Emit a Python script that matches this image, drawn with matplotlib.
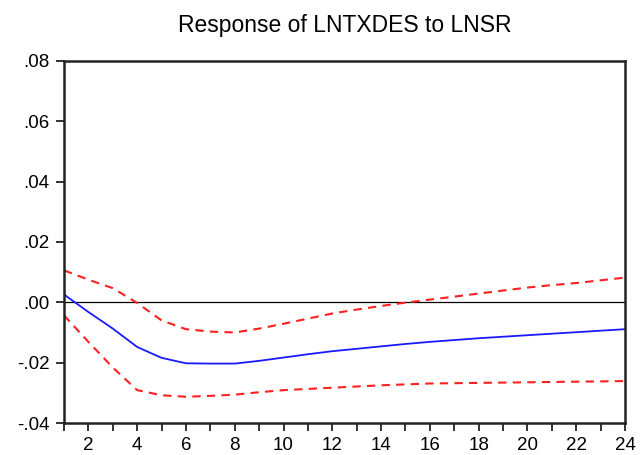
import numpy as np
import matplotlib
matplotlib.use("Agg")
from matplotlib import pyplot as plt
from matplotlib.ticker import FuncFormatter, MultipleLocator

plt.rcParams['font.family'] = ['Liberation Sans', 'DejaVu Sans']

periods = np.arange(1, 25)
response = [0.0026, -0.0032, -0.0087, -0.0148, -0.0184, -0.0202, -0.0203, -0.0203,
            -0.0194, -0.0183, -0.0172, -0.0162, -0.0154, -0.0146, -0.0138, -0.0131,
            -0.0125, -0.0119, -0.0114, -0.0109, -0.0104, -0.0099, -0.0094, -0.0089]
upper = [0.0106, 0.0075, 0.0047, -0.0002, -0.0060, -0.0089, -0.0097, -0.0100,
         -0.0087, -0.0071, -0.0054, -0.0037, -0.0024, -0.0012, -0.0001, 0.0009,
         0.0019, 0.0029, 0.0039, 0.0049, 0.0057, 0.0064, 0.0073, 0.0082]
lower = [-0.0043, -0.0131, -0.0216, -0.0291, -0.0308, -0.0313, -0.0310, -0.0306,
         -0.0298, -0.0291, -0.0287, -0.0283, -0.0279, -0.0275, -0.0272, -0.0269,
         -0.0268, -0.0267, -0.0266, -0.0265, -0.0264, -0.0263, -0.0262, -0.0261]

fig = plt.figure(figsize=(6.4, 4.55), dpi=100)
ax = fig.add_axes([0.1, 0.0703, 0.8766, 0.7957])

ax.axhline(0, color='black', lw=0.9)
ax.plot(periods, response, color='#1a1aff', lw=1.3)
ax.plot(periods, upper, color='#ff2020', lw=1.5, ls=(0, (4, 3)))
ax.plot(periods, lower, color='#ff2020', lw=1.5, ls=(0, (4, 3)))

ax.set_xlim(1, 24)
ax.set_ylim(-0.04, 0.08)
ax.xaxis.set_major_locator(MultipleLocator(2))
ax.xaxis.set_minor_locator(MultipleLocator(1))
ax.yaxis.set_major_locator(MultipleLocator(0.02))


def fmt(v, pos):
    s = '%.2f' % v
    s = s.replace('0.', '.')
    if s == '-.00':
        s = '.00'
    return s


ax.yaxis.set_major_formatter(FuncFormatter(fmt))
ax.tick_params(axis='both', which='both', direction='out', color='#222222',
               labelsize=13.5, width=1.3, length=6)
ax.tick_params(axis='x', which='major', pad=4)
ax.tick_params(axis='y', pad=4.5)
for s in ax.spines.values():
    s.set_linewidth(1.8)
    s.set_color('#222222')

ax.set_title('Response of LNTXDES to LNSR', fontsize=16.5, pad=21)

fig.savefig('out.png', dpi=100)
